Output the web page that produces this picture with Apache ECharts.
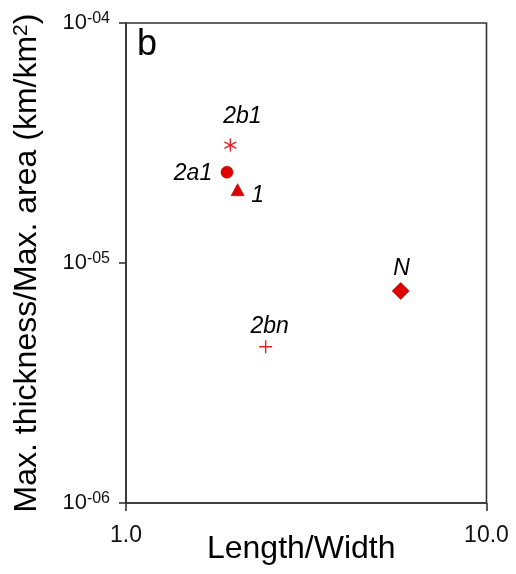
<!DOCTYPE html>
<html><head><meta charset="utf-8">
<script src="https://cdn.jsdelivr.net/npm/echarts@6/dist/echarts.min.js"></script>
<style>html,body{margin:0;padding:0;background:#fff}#c{width:516px;height:574px}</style>
</head><body><div id="c"></div>
<script>
const names = ['2b1', '2a1', '1', 'N', '2bn'];
const lengthWidth = [1.947, 1.906, 2.04, 5.78, 2.44];
const thicknessPerArea = [3.10e-5, 2.39e-5, 2.02e-5, 7.65e-6, 4.48e-6];
const xTicks = [1, 10];
const yTicks = [1e-6, 1e-5, 1e-4];

const FONT = 'Liberation Sans, Arial, sans-serif';
const RED = '#e00000';
const symbols = [
  'path://M0,-1L0,1M-0.87,-0.5L0.87,0.5M-0.87,0.5L0.87,-0.5',
  'circle', 'triangle', 'diamond',
  'path://M0,-1L0,1M-1,0L1,0'
];
const sizes = [[12, 13], 12, [13, 12], 17, 13];
const stroked = [true, false, false, false, true];
const labelOffsets = [[12, -28], [-34, 1], [20, 6], [1, -22], [4, -20]];

const chart = echarts.init(document.getElementById('c'), null, {renderer: 'canvas'});
const data = names.map((n, i) => ({
  name: n,
  value: [lengthWidth[i], thicknessPerArea[i]],
  symbol: symbols[i],
  symbolSize: sizes[i],
  itemStyle: stroked[i]
    ? {color: 'rgba(0,0,0,0)', borderColor: '#e82020', borderWidth: 1.4, opacity: 1}
    : {color: RED, borderColor: '#b00000', borderWidth: 0.6, opacity: 1},
  label: {
    show: true, position: 'inside', offset: labelOffsets[i],
    formatter: n, fontStyle: 'italic', fontSize: 23, color: '#000',
    textBorderWidth: 0, textBorderColor: 'transparent',
    fontFamily: FONT, align: 'center', verticalAlign: 'middle'
  }
}));

chart.setOption({
  animation: false,
  backgroundColor: '#fff',
  title: {text: 'b', left: 132, top: 22, textStyle: {fontSize: 36, fontWeight: 'normal', color: '#000', fontFamily: FONT}},
  grid: {left: 126, right: 29.5, top: 23, bottom: 71, show: true, borderColor: '#333', borderWidth: 1.6,
    backgroundColor: 'transparent', outerBoundsMode: 'none', containLabel: false},
  xAxis: {
    type: 'log', logBase: 10, min: xTicks[0], max: xTicks[xTicks.length - 1],
    name: 'Length/Width', nameLocation: 'middle', nameGap: 30, nameMoveOverlap: false,
    nameTextStyle: {fontSize: 32, color: '#000', fontFamily: FONT, padding: [0, 10, 0, 0]},
    axisLine: {show: true, lineStyle: {color: '#333', width: 1.6}},
    axisTick: {show: true, inside: false, length: 8, lineStyle: {color: '#333', width: 1.6}},
    minorTick: {show: false}, splitLine: {show: false},
    axisLabel: {margin: 21, fontSize: 23, color: '#111', fontFamily: FONT,
      formatter: v => Number(v).toFixed(1)}
  },
  yAxis: {
    type: 'log', logBase: 10, min: yTicks[0], max: yTicks[yTicks.length - 1],
    name: 'Max. thickness/Max. area (km/km{s|2})', nameLocation: 'middle', nameGap: 82, nameMoveOverlap: false,
    nameTextStyle: {fontSize: 32, color: '#000', fontFamily: FONT,
      rich: {s: {fontSize: 21, verticalAlign: 'top', color: '#000', fontFamily: FONT, padding: [0, 0, 12, 0]}}},
    axisLine: {show: true, lineStyle: {color: '#333', width: 1.6}},
    axisTick: {show: true, inside: false, length: 7, lineStyle: {color: '#333', width: 1.6}},
    minorTick: {show: false}, splitLine: {show: false},
    axisLabel: {margin: 16, color: '#111', fontFamily: FONT,
      formatter: v => {
        const e = Math.round(Math.log10(v));
        const s = (e < 0 ? '-' : '') + String(Math.abs(e)).padStart(2, '0');
        return '{b|10}{s|' + s + '}';
      },
      rich: {
        b: {fontSize: 22, color: '#111', fontFamily: FONT},
        s: {fontSize: 16, color: '#111', fontFamily: FONT, verticalAlign: 'top', padding: [0, 0, 8, 0]}
      }
    }
  },
  series: [{type: 'scatter', data: data, z: 3, itemStyle: {opacity: 1}}]
});
</script></body></html>
